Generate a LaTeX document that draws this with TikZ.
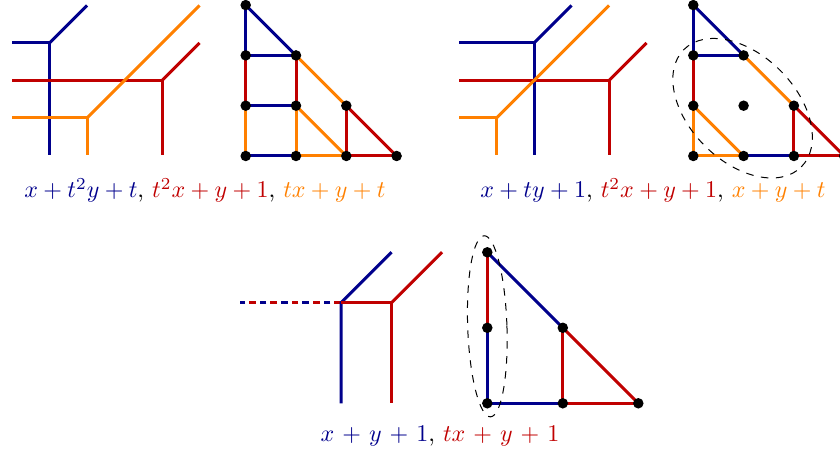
\documentclass[tikz,border=0pt]{standalone}
\definecolor{cblue}{RGB}{0,0,140}
\definecolor{cred}{RGB}{192,0,0}
\definecolor{corange}{RGB}{255,128,0}
\tikzset{
  trop/.style={line width=1.2pt, line join=miter},
  bl/.style={trop, draw=cblue},
  rd/.style={trop, draw=cred},
  og/.style={trop, draw=corange},
  dot/.style={circle, fill=black, inner sep=0pt, minimum size=4.2pt},
  oval/.style={dashed, line width=0.4pt},
  lab/.style={anchor=base, inner sep=0pt, scale=0.96, transform shape},
}
\begin{document}
\begin{tikzpicture}[x=0.4pt, y=-0.4pt]
\useasboundingbox (0,0) rectangle (840,452);
\clip (0,0) rectangle (840,452);

% ---------- top-left tropical curves ----------
\coordinate (tlB) at (49.5,43);   \coordinate (tlBw) at (12,43);
\coordinate (tlBs) at (49.5,155.5); \coordinate (tlBn) at (87,5.5);
\coordinate (tlR) at (162,80.5);  \coordinate (tlRw) at (12,80.5);
\coordinate (tlRs) at (162,155.5); \coordinate (tlRn) at (199.5,43);
\coordinate (tlO) at (87,118);    \coordinate (tlOw) at (12,118);
\coordinate (tlOs) at (87,155.5); \coordinate (tlOn) at (199.5,5.5);
\draw[bl] (tlBw) -- (tlB) -- (tlBs); \draw[bl] (tlB) -- (tlBn);
\draw[rd] (tlRw) -- (tlR) -- (tlRs); \draw[rd] (tlR) -- (tlRn);
\draw[og] (tlOw) -- (tlO) -- (tlOs); \draw[og] (tlO) -- (tlOn);

% ---------- top-left subdivision ----------
\begin{scope}[shift={(245.7,156)}, x=20.12pt, y=20.12pt]
  \foreach \i/\j in {0/3,0/2,1/2,0/1,1/1,2/1,0/0,1/0,2/0,3/0}
    \coordinate (a\i\j) at (\i,\j);
  \draw[bl] (a03) -- (a02); \draw[bl] (a03) -- (a12); \draw[bl] (a02) -- (a12);
  \draw[bl] (a01) -- (a11); \draw[bl] (a00) -- (a10);
  \draw[rd] (a02) -- (a01); \draw[rd] (a12) -- (a11); \draw[rd] (a21) -- (a20);
  \draw[rd] (a21) -- (a30); \draw[rd] (a20) -- (a30);
  \draw[og] (a12) -- (a21); \draw[og] (a01) -- (a00); \draw[og] (a11) -- (a10);
  \draw[og] (a11) -- (a20); \draw[og] (a10) -- (a20);
  \foreach \n in {a03,a02,a12,a01,a11,a21,a00,a10,a20,a30}
    \node[dot] (d\n) at (\n) {};
\end{scope}
\node[lab] (lab1) at (205,198) {\textcolor{cblue}{$x+t^2y+t$}, \textcolor{cred}{$t^2x+y+1$}, \textcolor{corange}{$tx+y+t$}};

% ---------- top-right tropical curves ----------
\coordinate (trB) at (534,43);    \coordinate (trBw) at (459,43);
\coordinate (trBs) at (534,155.5); \coordinate (trBn) at (571.5,5.5);
\coordinate (trR) at (609,80.5);  \coordinate (trRw) at (459,80.5);
\coordinate (trRs) at (609,155.5); \coordinate (trRn) at (646.5,43);
\coordinate (trO) at (496.5,118); \coordinate (trOw) at (459,118);
\coordinate (trOs) at (496.5,155.5); \coordinate (trOn) at (609,5.5);
\draw[bl] (trBw) -- (trB) -- (trBs); \draw[bl] (trB) -- (trBn);
\draw[rd] (trRw) -- (trR) -- (trRs); \draw[rd] (trR) -- (trRn);
\draw[og] (trOw) -- (trO) -- (trOs); \draw[og] (trO) -- (trOn);

% ---------- top-right subdivision ----------
\begin{scope}[shift={(693.3,156)}, x=20.12pt, y=20.12pt]
  \foreach \i/\j in {0/3,0/2,1/2,0/1,1/1,2/1,0/0,1/0,2/0,3/0}
    \coordinate (b\i\j) at (\i,\j);
  \draw[bl] (b03) -- (b02); \draw[bl] (b03) -- (b12); \draw[bl] (b02) -- (b12);
  \draw[bl] (b10) -- (b20);
  \draw[rd] (b02) -- (b01); \draw[rd] (b21) -- (b20);
  \draw[rd] (b21) -- (b30); \draw[rd] (b20) -- (b30);
  \draw[og] (b12) -- (b21); \draw[og] (b01) -- (b00); \draw[og] (b01) -- (b10);
  \draw[og] (b00) -- (b10);
  \foreach \n in {b03,b02,b12,b01,b11,b21,b00,b10,b20,b30}
    \node[dot] (d\n) at (\n) {};
  \coordinate (e1) at (0.98,0.95);
  \draw[oval, rotate around={-45:(e1)}] (e1) ellipse [x radius=1.65, y radius=1.06];
\end{scope}
\node[lab] (lab2) at (653,198) {\textcolor{cblue}{$x+ty+1$}, \textcolor{cred}{$t^2x+y+1$}, \textcolor{corange}{$x+y+t$}};

% ---------- bottom tropical curves ----------
\coordinate (bB) at (341,302.7);  \coordinate (bBs) at (341,403.3);
\coordinate (bBn) at (391.5,252.2); \coordinate (bW) at (240,302.7);
\coordinate (bR) at (391.5,302.7); \coordinate (bRs) at (391.5,403.3);
\coordinate (bRn) at (442,252.2);
\draw[trop, draw=cred, dash pattern=on 2.68pt off 5.84pt] (bB) -- (bW);
\draw[trop, draw=cblue, dash pattern=on 2.68pt off 5.84pt, dash phase=4.26pt] (bB) -- (bW);
\draw[bl] (bBs) -- (bB) -- (bBn);
\draw[rd] (bB) -- (bR) -- (bRs); \draw[rd] (bR) -- (bRn);

% ---------- bottom subdivision ----------
\begin{scope}[shift={(487.3,403.3)}, x=30.2pt, y=30.2pt]
  \foreach \i/\j in {0/2,0/1,1/1,0/0,1/0,2/0}
    \coordinate (c\i\j) at (\i,\j);
  \draw[rd] (c02) -- (c01); \draw[bl] (c02) -- (c11);
  \draw[bl] (c01) -- (c00); \draw[bl] (c00) -- (c10);
  \draw[rd] (c11) -- (c10); \draw[rd] (c11) -- (c20); \draw[rd] (c10) -- (c20);
  \foreach \n in {c02,c01,c11,c00,c10,c20}
    \node[dot] (d\n) at (\n) {};
  \coordinate (e2) at (0,1.02);
  \draw[oval, rotate around={2:(e2)}] (e2) ellipse [x radius=0.26, y radius=1.2];
\end{scope}
\node[lab] (lab3) at (440,441.7) {\medmuskip=6mu\textcolor{cblue}{$x+y+1$}, \textcolor{cred}{$tx+y+1$}};
\end{tikzpicture}
\end{document}
